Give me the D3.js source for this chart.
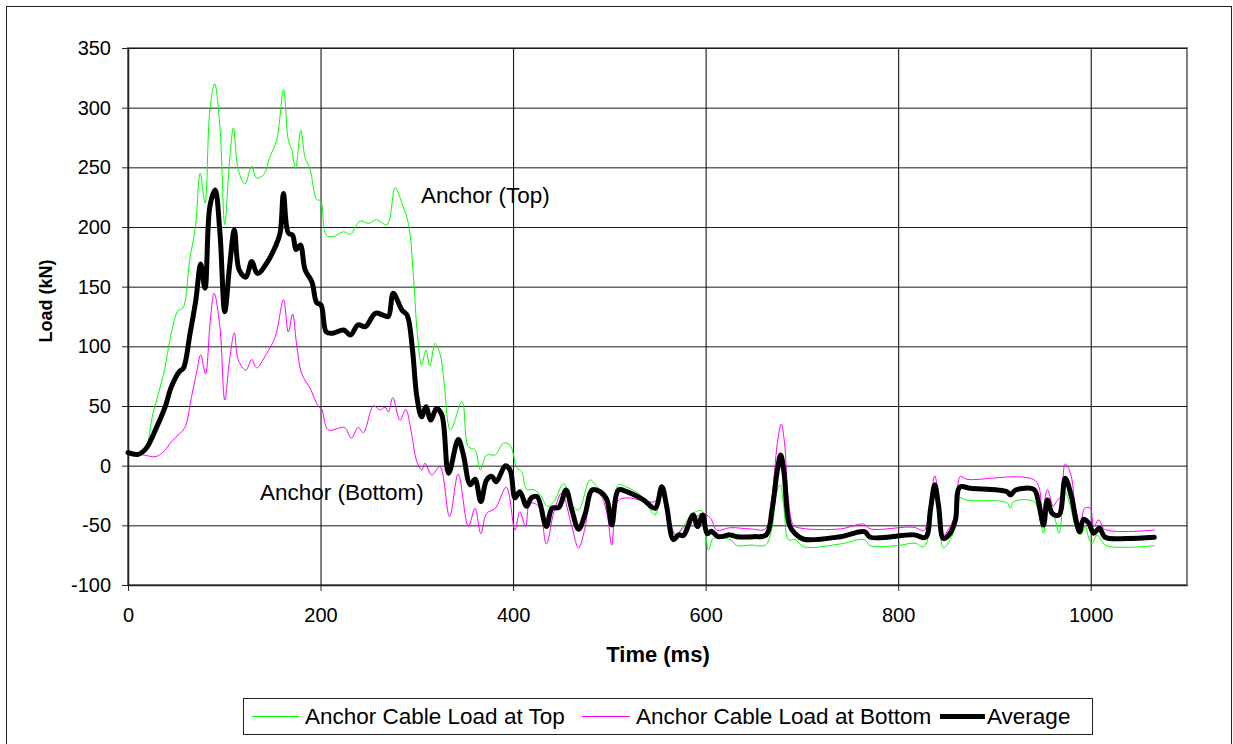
<!DOCTYPE html>
<html>
<head>
<meta charset="utf-8">
<script src="https://cdn.jsdelivr.net/npm/d3@7"></script>
<style>
  body { margin: 0; background: #fff; }
  svg text { font-family: 'Liberation Sans', Arial, sans-serif; fill: #000; }
</style>
</head>
<body>
<div class="canvas"></div>
<script>
// [time (ms), load (kN)]
const anchorTop = [
    [0,10.4],[16,11.7],[26,44],[37,77],[45,111],[52,130],[57,132],[64,172],[70,200],[75,245],
    [80,220],[85,298],[90,320],[95.5,284],[100.5,202],[105.5,256],[109.5,283],[114.5,248],[121.5,236],[128.5,251],
    [133.5,241],[141,244],[147.5,259],[154.5,273],[161.5,315],[166.5,273],[170,265],[174,249],[179.5,281],[184,258],
    [189,249],[196,223],[200,222],[206,193],[213,192],[224,196],[231,194],[241,205],[250,203],[258,206],
    [269,202],[277.5,233],[284.5,220],[291.5,202],[296.5,158],[300.5,111],[305,84],[309.5,97],[313.5,83.5],[319,102.5],
    [324,94],[328,72],[335,30],[347,53.6],[353.5,16],[360.5,13],[366,-3.6],[372.5,9],[381.5,9],[390,19],
    [397,17],[404,-2],[409,-5],[414,-20],[421,-20],[428.5,-24.6],[435.5,-34],[442.5,-30],[452.5,-15],[461,-33],
    [468,-37],[480,-12],[487,-17.6],[494,-24.6],[500.5,-45.5],[509.5,-16],[518,-18],[532,-24.6],[547.5,-41],[554.5,-19],
    [561.5,-40],[568.5,-58],[575,-52.5],[587,-40],[596,-38],[603,-70.6],[608,-61],[625.5,-62],[632.5,-67],[646.5,-66.5],
    [662,-66.5],[668.5,-54],[673.5,-23],[677.5,-16],[681.5,-37],[686,-62],[693,-62],[702,-68],[740,-65.6],[765,-62],
    [771,-67],[799,-67],[817.5,-65],[826.5,-68],[833.5,-51],[837.5,-20],[842,-43],[847,-69],[854,-62],[859.5,-50],
    [864,-27],[871.5,-29],[913,-31],[916.5,-35.7],[920,-30],[941,-30],[946,-40],[951,-56.6],[955,-37],[962,-43],
    [967,-56.6],[973.5,-22],[979,-34],[984,-51],[989.5,-58],[994.5,-51],[998,-61],[1001.5,-65],[1006.5,-58],[1015,-66.5],
    [1037.5,-68.4],[1066,-67]
];

const anchorBottom = [
    [0,9.5],[16,9],[28,7.5],[37,11.7],[45,20],[54,27],[59.5,32.7],[66,58],[71.5,79],[75.5,93],
    [80.5,77],[85.5,122],[89.5,144.5],[95.5,116],[100.5,55],[105.5,88.6],[110.5,111.5],[114.5,88.6],[122.5,80],[128.5,89],
    [133.5,82],[144,94],[153,108],[161.5,139],[166.5,112],[171,127],[175,102.5],[180.5,77],[189,65],[198,49.5],
    [201,48],[208,30],[225,32],[232,23],[239,32],[244.5,27.7],[255,50],[262,46.7],[267,49],[270.5,45],
    [275,57],[282.5,38],[288.5,47],[294.5,27],[299.5,4.8],[305,-3.6],[308.5,2],[315.5,-7.8],[324,-0.8],[334,-42.7],
    [343,-7],[353.5,-51],[360.5,-35.7],[366.5,-57],[372.5,-40],[381.5,-35.7],[393,-18],[402,-54],[407,-38.5],[413,-51],
    [417.5,-31.5],[426.5,-34],[434.5,-65.6],[442.5,-38.5],[450.5,-23],[461,-51],[468,-69],[475,-51],[481.5,-22],[490.5,-24.6],
    [497.5,-40],[502.5,-66.5],[508.5,-30],[518,-27],[539,-30],[547.5,-30],[554.5,-19],[568.5,-58],[577,-52],[587,-45.5],
    [596,-40],[605,-44],[611.5,-54],[625.5,-52],[646.5,-53],[662,-53],[668.5,-28.7],[674.5,18.8],[678.5,35],[682,18.8],
    [686,-28.7],[691.5,-50],[700,-52.5],[740,-53],[764,-49],[771,-53],[816.5,-51.6],[826.5,-54.5],[833.5,-28.7],[838,-8.6],
    [842,-26],[847,-58],[854,-51],[859.5,-40],[864.5,-9],[871.5,-11.4],[942.5,-12.6],[949.5,-38],[955,-20],[961,-34],
    [964.5,-30],[969,-25],[973.5,1.4],[979,-6.4],[984,-34],[989.5,-51],[993.5,-35.7],[999.5,-35.7],[1003,-51],[1008.5,-45.5],
    [1014.5,-53.3],[1066,-54]
];

const average = [
    [0,11],[10.5,9.5],[19,14.6],[30,32.7],[38.5,49],[45,66],[53.5,79],[57.5,81.6],[64.5,111],[70.5,139],
    [75.5,169],[80,148.7],[85,217],[90.5,231],[95.5,195],[100.5,129],[105.5,167],[110.5,197.5],[115.5,164],[122.5,158],
    [128.5,171],[134.5,161],[144,169.6],[153,183.5],[158,195],[161.5,228],[166.5,195],[171,193],[174.5,181],[179,185],
    [184,164],[191,154],[196,136.6],[200.5,134.7],[206,112],[213,111],[224,113.7],[231,109.5],[239,118],[246.5,116.5],
    [257,127.7],[265.5,126],[270.5,125],[275.5,144.5],[284.5,130.5],[290,126],[295.5,97],[300,58],[305,41],[309.5,49.4],
    [314.5,38.3],[320.5,48],[326,42.5],[333,-6.4],[343,22],[348,10.4],[355.5,-16],[360.5,-11.4],[366.5,-30],[372.5,-12],
    [378,-9],[382.5,-13.4],[392,0],[397,-4],[402,-27],[407,-21.8],[414,-34],[419,-27],[425,-26],[434.5,-51],
    [440.5,-35.7],[447.5,-35],[455,-20.4],[461,-37],[468,-53.3],[475,-40],[482,-20.4],[490.5,-21.8],[497.5,-28.7],[502.5,-49.7],
    [509.5,-20.4],[518,-21.8],[535.5,-28.7],[547.5,-35.7],[554.5,-17.6],[559.5,-34],[566.5,-62],[572,-58],[577,-58.5],[587,-41.3],
    [591.5,-51],[597,-41.3],[601.5,-57],[606,-55],[613,-59.5],[625.5,-58],[632.5,-59.5],[650,-59.5],[663,-58],[669,-37],
    [674.5,-3.6],[678,9],[681.5,-6.4],[687,-49.7],[693,-57],[702,-61.7],[740,-59.5],[765,-55.3],[771,-60],[816.5,-58],
    [828.5,-60],[833.5,-37],[838,-16],[842,-34],[847,-61],[854,-56.6],[859.5,-45.5],[864,-18],[875,-19],[913,-21.8],
    [916.5,-24.6],[922,-20.4],[941,-20],[946,-31.5],[951,-49.7],[955,-28.7],[960,-40],[967,-41.3],[973.5,-10.6],[980,-26],
    [985,-47],[988.5,-55.3],[992.5,-45],[998,-48.3],[1003,-56.6],[1009,-52.5],[1015,-60],[1037.5,-61],[1066,-60]
];

const xTicks = [0, 200, 400, 600, 800, 1000];
const yTicks = [-100, -50, 0, 50, 100, 150, 200, 250, 300, 350];
const seriesNames = ['Anchor Cable Load at Top', 'Anchor Cable Load at Bottom', 'Average'];
const curveLabels = ['Anchor (Top)', 'Anchor (Bottom)'];

const svg = d3.select('.canvas')
    .append('svg')
    .attr('width', 1233)
    .attr('height', 744);

// outer chart frame
svg.append('rect')
    .attr('x', 6.5).attr('y', 6.5)
    .attr('width', 1225).attr('height', 745)
    .attr('fill', 'none')
    .attr('stroke', '#222');

const margin = { top: 48, right: 46, bottom: 159, left: 128 };
const graphWidth = 1233 - margin.left - margin.right;
const graphHeight = 744 - margin.top - margin.bottom;

const graph = svg.append('g')
    .attr('transform', `translate(${margin.left},${margin.top})`);

const x = d3.scaleLinear()
    .domain([0, 1100])
    .range([0, graphWidth]);

const y = d3.scaleLinear()
    .domain([-100, 350])
    .range([graphHeight, 0]);

// plot area border (grey, Excel style)
graph.append('rect')
    .attr('x', 0).attr('y', 0)
    .attr('width', graphWidth).attr('height', graphHeight)
    .attr('fill', 'none')
    .attr('stroke', '#808080')
    .attr('stroke-width', 2);

// gridlines
graph.append('g')
    .call(d3.axisLeft(y).tickValues(yTicks).tickSize(-graphWidth).tickFormat(''))
    .call(g => g.select('.domain').remove())
    .call(g => g.selectAll('line').attr('stroke', '#1a1a1a'));

graph.append('g')
    .attr('transform', `translate(0,${graphHeight})`)
    .call(d3.axisBottom(x).tickValues(xTicks).tickSize(-graphHeight).tickFormat(''))
    .call(g => g.select('.domain').remove())
    .call(g => g.selectAll('line').attr('stroke', '#000'));

// axes
const xAxisGroup = graph.append('g')
    .attr('transform', `translate(0,${graphHeight})`)
    .call(d3.axisBottom(x).tickValues(xTicks).tickSize(6).tickSizeOuter(0).tickPadding(17)
        .tickFormat(d => String(d)));

const yAxisGroup = graph.append('g')
    .call(d3.axisLeft(y).tickValues(yTicks).tickSize(6).tickSizeOuter(0).tickPadding(11)
        .tickFormat(d => String(d)));

[xAxisGroup, yAxisGroup].forEach(g => {
    g.select('.domain').attr('stroke', '#222').attr('stroke-width', 1.5);
    g.selectAll('.tick line').attr('stroke', '#222');
    g.selectAll('text')
        .attr('font-size', 20)
        .attr('font-family', "'Liberation Sans', Arial, sans-serif")
        .attr('fill', '#000');
});

// series lines
const line = d3.line()
    .x(d => x(d[0]))
    .y(d => y(d[1]))
    .curve(d3.curveCatmullRom.alpha(0.5));

const series = [
    { name: seriesNames[0], data: anchorTop, color: '#00ff00', width: 1 },
    { name: seriesNames[1], data: anchorBottom, color: '#ff00ff', width: 1 },
    { name: seriesNames[2], data: average, color: '#000', width: 5 }
];

graph.selectAll('path.series')
    .data(series)
    .enter()
    .append('path')
    .attr('class', 'series')
    .attr('d', d => line(d.data))
    .attr('fill', 'none')
    .attr('stroke', d => d.color)
    .attr('stroke-width', d => d.width)
    .attr('stroke-linejoin', 'round')
    .attr('stroke-linecap', 'round');

// curve annotations
svg.append('text')
    .attr('x', 421).attr('y', 203)
    .attr('font-size', 22.5)
    .text(curveLabels[0]);

svg.append('text')
    .attr('x', 260).attr('y', 500)
    .attr('font-size', 22.5)
    .text(curveLabels[1]);

// axis titles
svg.append('text')
    .attr('transform', 'translate(51.5,301) rotate(-90)')
    .attr('text-anchor', 'middle')
    .attr('font-size', 18)
    .attr('font-weight', 'bold')
    .text('Load (kN)');

svg.append('text')
    .attr('x', 658).attr('y', 662)
    .attr('text-anchor', 'middle')
    .attr('font-size', 22)
    .attr('font-weight', 'bold')
    .text('Time (ms)');

// legend
const legend = svg.append('g');
legend.append('rect')
    .attr('x', 243.5).attr('y', 698.5)
    .attr('width', 849).attr('height', 36)
    .attr('fill', '#fff')
    .attr('stroke', '#222');

const legendItems = [
    { x1: 252, x2: 299, tx: 305 },
    { x1: 582, x2: 630, tx: 636 },
    { x1: 940, x2: 985, tx: 987 }
];

legendItems.forEach((item, i) => {
    legend.append('line')
        .attr('x1', item.x1).attr('x2', item.x2)
        .attr('y1', 716.5).attr('y2', 716.5)
        .attr('stroke', series[i].color)
        .attr('stroke-width', series[i].width);
    legend.append('text')
        .attr('x', item.tx).attr('y', 724)
        .attr('font-size', 22.5)
        .text(series[i].name);
});
</script>
</body>
</html>
